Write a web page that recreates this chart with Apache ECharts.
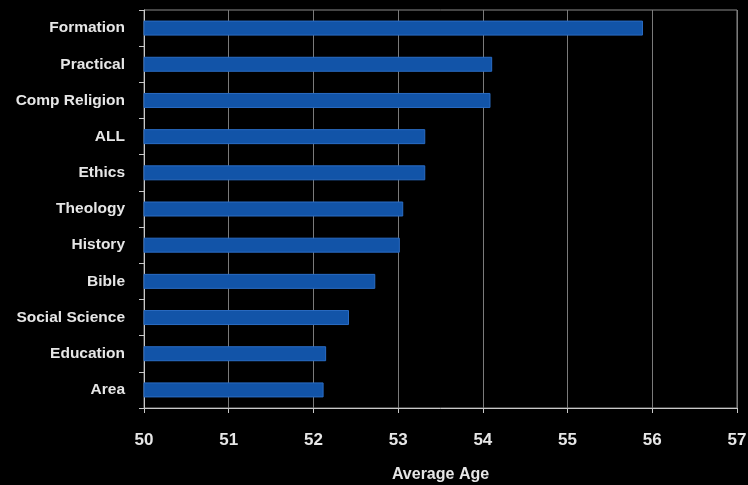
<!DOCTYPE html>
<html>
<head>
<meta charset="utf-8">
<script src="https://cdn.jsdelivr.net/npm/echarts@6/dist/echarts.min.js"></script>
<style>
html,body{margin:0;padding:0;background:#000;}
#c{width:748px;height:485px;}
</style>
</head>
<body>
<div id="c"></div>
<script>
const categories = ["Area","Education","Social Science","Bible","History","Theology","Ethics","ALL","Comp Religion","Practical","Formation"];
const averageAge = [52.12,52.15,52.42,52.73,53.02,53.06,53.32,53.32,54.09,54.11,55.89];
const xTitle = "Average Age";
const xMin = 50, xMax = 57, xStep = 1;

const chart = echarts.init(document.getElementById('c'), null, {renderer:'canvas'});
const font = "'Liberation Sans', Arial, sans-serif";
chart.setOption({
  backgroundColor: '#000',
  animation: false,
  grid: {left:144, right:11, top:10, bottom:77, containLabel:false, outerBoundsMode:'none',
         show:true, borderColor:'#8a8a8a', borderWidth:1, backgroundColor:'transparent'},
  xAxis: {
    type:'value', min:xMin, max:xMax, interval:xStep,
    name: xTitle, nameLocation:'middle', nameGap:59,
    nameTextStyle:{color:'#e6e6e6', fontFamily:font, fontWeight:'bold', fontSize:16},
    axisLine:{show:true, lineStyle:{color:'#c8c8c8', width:1}},
    axisTick:{show:true, length:5, lineStyle:{color:'#c8c8c8'}},
    axisLabel:{color:'#e6e6e6', fontFamily:font, fontWeight:'bold', fontSize:17, margin:24},
    splitLine:{show:true, lineStyle:{color:'#7a7a7a', width:1}}
  },
  yAxis: {
    type:'category', data:categories,
    axisLine:{show:true, lineStyle:{color:'#c8c8c8', width:1}},
    axisTick:{show:true, length:5, lineStyle:{color:'#c8c8c8'}},
    axisLabel:{color:'#e6e6e6', fontFamily:font, fontWeight:'bold', fontSize:15.5, margin:19},
    splitLine:{show:false}
  },
  series: [{
    type:'bar', data:averageAge, barWidth:15,
    itemStyle:{color:'#1254a8', borderColor:'#2a6cc4', borderWidth:1}
  }]
});
</script>
</body>
</html>
